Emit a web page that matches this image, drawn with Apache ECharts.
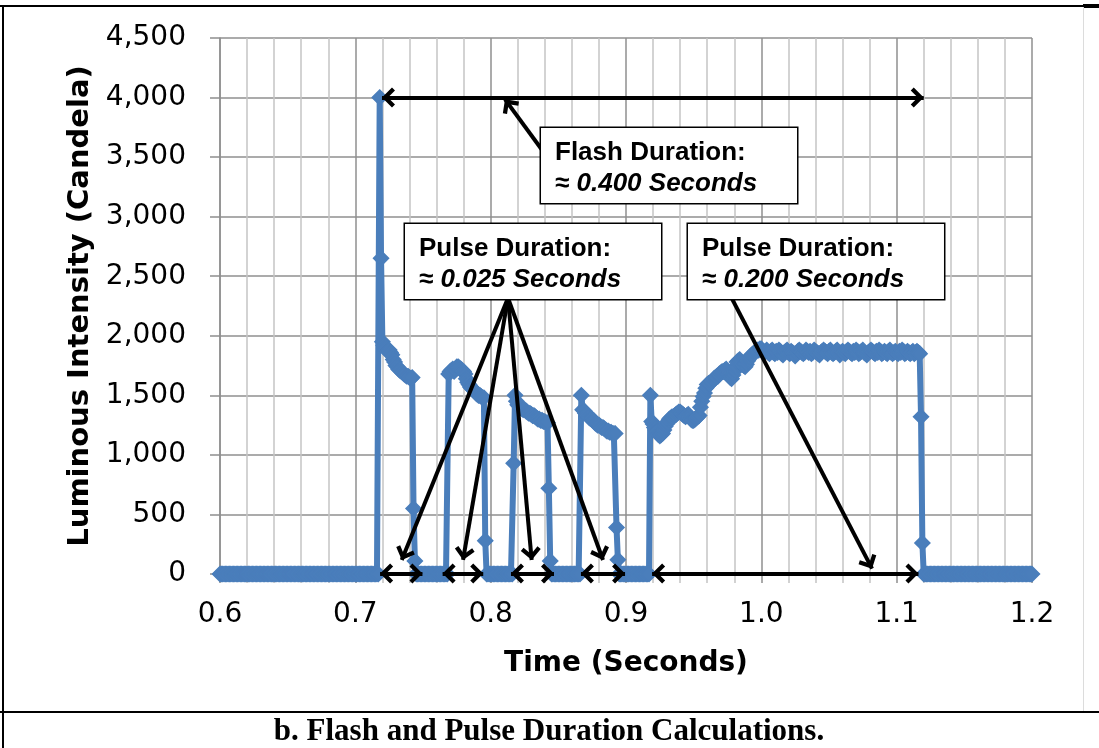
<!DOCTYPE html>
<html>
<head>
<meta charset="utf-8">
<title>Flash and Pulse Duration Calculations</title>
<script src="https://cdn.jsdelivr.net/npm/echarts@6/dist/echarts.min.js"></script>
<style>
  html, body { margin: 0; padding: 0; background: #fff; }
  #chart { width: 1099px; height: 748px; }
</style>
</head>
<body>
<div id="chart"></div>
<script>
// trace sampling: first sample time and sample step (seconds)
const t0 = 0.6;
const dt = 0.001;

// luminous intensity (candela), one value per millisecond, 10 per row
const intensity = [
  0, 0, 0, 0, 0, 0, 0, 0, 0, 0,
  0, 0, 0, 0, 0, 0, 0, 0, 0, 0,
  0, 0, 0, 0, 0, 0, 0, 0, 0, 0,
  0, 0, 0, 0, 0, 0, 0, 0, 0, 0,
  0, 0, 0, 0, 0, 0, 0, 0, 0, 0,
  0, 0, 0, 0, 0, 0, 0, 0, 0, 0,
  0, 0, 0, 0, 0, 0, 0, 0, 0, 0,
  0, 0, 0, 0, 0, 0, 0, 0, 0, 0,
  0, 0, 0, 0, 0, 0, 0, 0, 0, 0,
  0, 0, 0, 0, 0, 0, 0, 0, 0, 0,
  0, 0, 0, 0, 0, 0, 0, 0, 0, 0,
  0, 0, 0, 0, 0, 0, 0, 0, 4000, 2650,
  1950, 1920, 1900, 1880, 1870, 1880, 1860, 1840, 1800, 1780,
  1750, 1740, 1720, 1710, 1700, 1690, 1680, 1670, 1660, 1660,
  1650, 1640, 1650, 550, 110, 0, 0, 0, 0, 0,
  0, 0, 0, 0, 0, 0, 0, 0, 0, 0,
  0, 0, 0, 0, 0, 0, 0, 0, 0, 1680,
  1700, 1710, 1720, 1700, 1720, 1740, 1740, 1730, 1720, 1710,
  1700, 1680, 1640, 1610, 1590, 1570, 1560, 1550, 1540, 1520,
  1510, 1500, 1500, 1490, 1480, 1480, 280, 0, 0, 0,
  0, 0, 0, 0, 0, 0, 0, 0, 0, 0,
  0, 0, 0, 0, 0, 0, 0, 930, 1500, 1450,
  1420, 1410, 1400, 1390, 1380, 1380, 1370, 1360, 1350, 1350,
  1340, 1330, 1330, 1320, 1310, 1300, 1300, 1290, 1290, 1280,
  1280, 1270, 1270, 720, 110, 0, 0, 0, 0, 0,
  0, 0, 0, 0, 0, 0, 0, 0, 0, 0,
  0, 0, 0, 0, 0, 0, 0, 1500, 1380, 1370,
  1350, 1340, 1330, 1310, 1310, 1300, 1290, 1270, 1260, 1250,
  1250, 1240, 1230, 1230, 1220, 1210, 1200, 1200, 1190, 1190,
  1180, 1180, 1180, 390, 120, 0, 0, 0, 0, 0,
  0, 0, 0, 0, 0, 0, 0, 0, 0, 0,
  0, 0, 0, 0, 0, 0, 0, 0, 1500, 1280,
  1260, 1230, 1210, 1190, 1170, 1160, 1170, 1180, 1210, 1240,
  1260, 1280, 1300, 1310, 1320, 1320, 1330, 1340, 1350, 1360,
  1360, 1350, 1340, 1330, 1320, 1330, 1340, 1320, 1300, 1290,
  1290, 1300, 1310, 1320, 1330, 1400, 1450, 1490, 1520, 1560,
  1590, 1600, 1600, 1610, 1620, 1640, 1650, 1660, 1660, 1680,
  1690, 1700, 1700, 1710, 1720, 1700, 1680, 1650, 1640, 1670,
  1700, 1740, 1780, 1790, 1800, 1780, 1760, 1750, 1740, 1760,
  1790, 1810, 1830, 1840, 1850, 1860, 1870, 1880, 1880, 1890,
  1890, 1870, 1860, 1870, 1880, 1860, 1850, 1870, 1880, 1860,
  1850, 1870, 1860, 1880, 1870, 1850, 1840, 1860, 1870, 1880,
  1860, 1850, 1870, 1860, 1850, 1830, 1850, 1870, 1880, 1870,
  1860, 1850, 1860, 1880, 1870, 1860, 1870, 1850, 1860, 1880,
  1870, 1860, 1850, 1840, 1860, 1870, 1880, 1870, 1860, 1850,
  1870, 1880, 1860, 1850, 1860, 1870, 1880, 1860, 1840, 1860,
  1870, 1860, 1850, 1870, 1880, 1870, 1860, 1850, 1870, 1860,
  1880, 1870, 1850, 1860, 1870, 1880, 1860, 1850, 1840, 1860,
  1870, 1880, 1870, 1860, 1850, 1870, 1860, 1880, 1870, 1850,
  1860, 1870, 1860, 1850, 1870, 1880, 1860, 1850, 1860, 1870,
  1860, 1850, 1870, 1860, 1880, 1870, 1850, 1860, 1870, 1860,
  1850, 1860, 1870, 1850, 1860, 1870, 1860, 1850, 1320, 260,
  0, 0, 0, 0, 0, 0, 0, 0, 0, 0,
  0, 0, 0, 0, 0, 0, 0, 0, 0, 0,
  0, 0, 0, 0, 0, 0, 0, 0, 0, 0,
  0, 0, 0, 0, 0, 0, 0, 0, 0, 0,
  0, 0, 0, 0, 0, 0, 0, 0, 0, 0,
  0, 0, 0, 0, 0, 0, 0, 0, 0, 0,
  0, 0, 0, 0, 0, 0, 0, 0, 0, 0,
  0, 0, 0, 0, 0, 0, 0, 0, 0, 0,
  0
];

// double headed duration arrows, [time, candela] of both tips
const spanArrows = [
  [[0.7197, 4000], [1.1200, 4000]],
  [[0.7183, 5], [0.7496, 5]],
  [[0.7645, 5], [0.7945, 5]],
  [[0.8150, 5], [0.8468, 5]],
  [[0.8667, 5], [0.8993, 5]],
  [[0.9193, 5], [1.1161, 5]]
];

// pointers from a note to what it explains, [time, candela] start -> tip
const pointerArrows = [
  [[0.8380, 3560], [0.8106, 3985]],
  [[0.8128, 2317], [0.7343, 118]],
  [[0.8128, 2317], [0.7796, 118]],
  [[0.8128, 2317], [0.8303, 118]],
  [[0.8128, 2317], [0.8830, 118]],
  [[0.9776, 2326], [1.0818, 45]]
];

// note boxes: top-left corner in data units and their two lines
const noteCorners = [[0.8372, 3745], [0.7367, 2939], [0.9458, 2939]];
const noteTitles = ['Flash Duration:', 'Pulse Duration:', 'Pulse Duration:'];
const noteValues = ['0.400 Seconds', '0.025 Seconds', '0.200 Seconds'];

const BLUE = '#4a7ebb';
const GRID_DARK = '#8f8f8f';
const GRID_LIGHT = '#c4c4c4';
// open arrow head, tip at the top
const CHEVRON = 'path://M10,0 L20,10 L17,13 L10,6 L3,13 L0,10 Z';

const traceData = intensity.map((v, i) => [+(t0 + i * dt).toFixed(3), v]);

function head(coord) {
  return { coord: coord, symbol: CHEVRON, symbolSize: [20, 13], symbolOffset: [0, 6.5] };
}
const arrowLines = spanArrows.map(a => [head(a[0]), head(a[1])])
  .concat(pointerArrows.map(a => [{ coord: a[0], symbol: 'none' }, head(a[1])]));

const chart = echarts.init(document.getElementById('chart'));

chart.setOption({
  animation: false,
  backgroundColor: '#fff',
  grid: { left: 220, right: 67, top: 38, bottom: 174, containLabel: false, outerBoundsMode: 'none' },
  xAxis: {
    type: 'value',
    min: 0.6,
    max: 1.2,
    interval: 0.1,
    name: 'Time (Seconds)',
    nameLocation: 'middle',
    nameGap: 76,
    nameTextStyle: { fontFamily: 'DejaVu Sans', fontWeight: 'bold', fontSize: 28, color: '#000' },
    axisLine: { show: true, lineStyle: { color: GRID_DARK, width: 1.5 } },
    axisTick: { show: true, inside: false, length: 9, lineStyle: { color: GRID_DARK, width: 1.5 } },
    minorTick: { show: true, splitNumber: 5, length: 9, lineStyle: { color: GRID_LIGHT, width: 1.5 } },
    axisLabel: {
      margin: 27,
      fontFamily: 'DejaVu Sans',
      fontSize: 28,
      color: '#000',
      formatter: v => v.toFixed(1)
    },
    splitLine: { show: true, lineStyle: { color: GRID_DARK, width: 1.5, type: 'solid' } },
    minorSplitLine: { show: true, lineStyle: { color: GRID_LIGHT, width: 1.5, type: 'solid' } }
  },
  yAxis: {
    type: 'value',
    min: 0,
    max: 4500,
    interval: 500,
    name: 'Luminous Intensity (Candela)',
    nameLocation: 'middle',
    nameGap: 117,
    nameTextStyle: { fontFamily: 'DejaVu Sans', fontWeight: 'bold', fontSize: 29, color: '#000' },
    axisLine: { show: true, lineStyle: { color: GRID_DARK, width: 1.5 } },
    axisTick: { show: true, inside: false, length: 10, lineStyle: { color: GRID_DARK, width: 1.5 } },
    axisLabel: {
      margin: 34,
      fontFamily: 'DejaVu Sans',
      fontSize: 28,
      color: '#000',
      formatter: v => String(v).replace(/\B(?=(\d{3})+(?!\d))/g, ',')
    },
    splitLine: { show: true, lineStyle: { color: GRID_DARK, width: 1.5, type: 'solid' } }
  },
  series: [
    {
      // the connecting line of the trace
      name: 'Luminous Intensity',
      type: 'line',
      data: traceData,
      clip: false,
      z: 2,
      showSymbol: false,
      lineStyle: { color: BLUE, width: 6 },
      emphasis: { disabled: true },
      silent: true
    },
    {
      // a diamond marker on every sample
      name: 'Luminous Intensity markers',
      type: 'scatter',
      data: traceData,
      clip: false,
      z: 3,
      symbol: 'diamond',
      symbolSize: 15,
      itemStyle: { color: BLUE, borderColor: BLUE, borderWidth: 1.5, opacity: 1 },
      emphasis: { disabled: true },
      silent: true
    },
    {
      name: 'annotations',
      type: 'line',
      data: [],
      z: 5,
      silent: true,
      markLine: {
        silent: true,
        animation: false,
        label: { show: false },
        emphasis: { disabled: true },
        lineStyle: { color: '#000', width: 4, type: 'solid' },
        data: arrowLines
      }
    }
  ]
});

// note boxes are placed from data units
const noteBoxes = noteCorners.map((c, i) => {
  const p = chart.convertToPixel({ xAxisIndex: 0, yAxisIndex: 0 }, c);
  return {
    type: 'text',
    x: p[0],
    y: p[1],
    z: 100,
    style: {
      text: '{h|' + noteTitles[i] + '}\n{s|≈ }{v|' + noteValues[i] + '}',
      backgroundColor: '#fff',
      borderColor: '#000',
      borderWidth: 1.5,
      padding: [9, 12, 4, 14],
      width: 230,
      rich: {
        h: { fontFamily: 'Liberation Sans', fontWeight: 'bold', fontSize: 26, lineHeight: 31, fill: '#000' },
        s: { fontFamily: 'Liberation Sans', fontWeight: 'bold', fontSize: 26, lineHeight: 31, fill: '#000' },
        v: { fontFamily: 'Liberation Sans', fontWeight: 'bold', fontStyle: 'italic', fontSize: 26, lineHeight: 31, fill: '#000' }
      }
    }
  };
});

// page frame around the figure and its caption
const frame = [
  { type: 'rect', z: 100, shape: { x: 0, y: 5, width: 1099, height: 2 }, style: { fill: '#000' } },
  { type: 'rect', z: 100, shape: { x: 1083, y: 4, width: 16, height: 4 }, style: { fill: '#000' } },
  { type: 'rect', z: 100, shape: { x: 2, y: 5, width: 2, height: 743 }, style: { fill: '#000' } },
  { type: 'rect', z: 100, shape: { x: 0, y: 711, width: 1099, height: 2 }, style: { fill: '#000' } },
  { type: 'line', z: 100, shape: { x1: 1083.5, y1: 7, x2: 1083.5, y2: 711 }, style: { stroke: '#dcdcdc', lineWidth: 1 } },
  {
    type: 'text', z: 100, x: 549, y: 732,
    style: {
      text: 'b. Flash and Pulse Duration Calculations.',
      font: 'bold 31px "Liberation Serif"',
      fill: '#000',
      align: 'center',
      verticalAlign: 'middle'
    }
  }
];

chart.setOption({ graphic: frame.concat(noteBoxes) });
</script>
</body>
</html>
